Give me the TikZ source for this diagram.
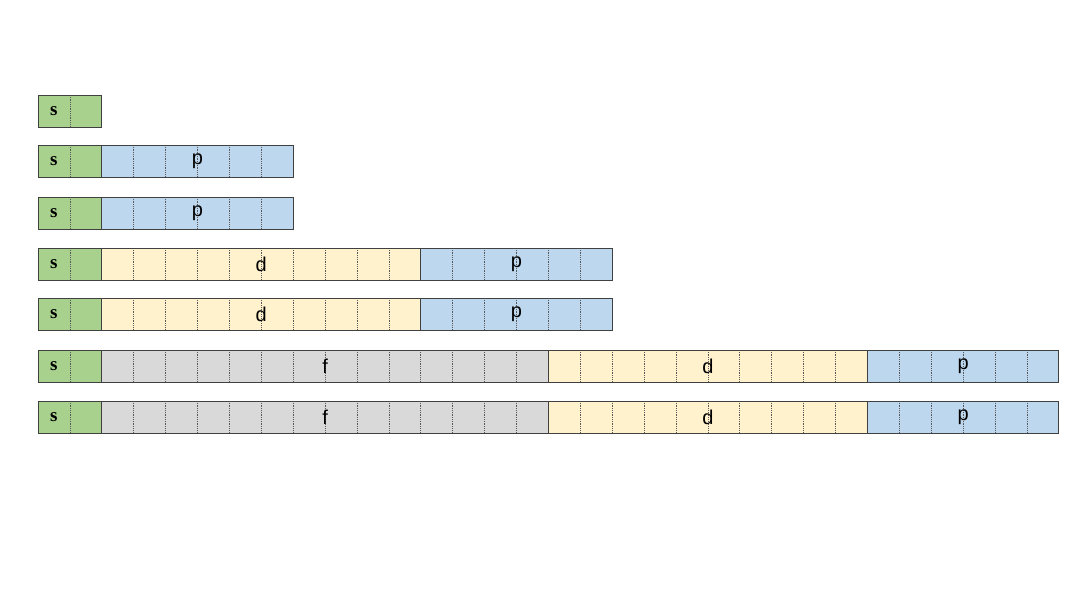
\documentclass[tikz,border=0pt]{standalone}
\usepackage{fontspec}
\setmainfont{Liberation Sans}
\newfontfamily\sfont{Liberation Serif}
\usetikzlibrary{positioning}

\definecolor{sgreen}{RGB}{169,209,142}
\definecolor{pblue}{RGB}{189,215,238}
\definecolor{dyellow}{RGB}{255,242,204}
\definecolor{fgray}{RGB}{217,217,217}

\tikzset{
  blk/.style={draw=black!75,line width=1pt,inner sep=0pt,outer sep=0pt,
    minimum height=32pt,minimum width=#1*31.9pt,font=\fontsize{20}{20}\selectfont,
    path picture={\foreach \i in {1,...,13}
      \draw[black!65,densely dotted,line width=0.8pt]
        ([xshift=\i*31.9pt]path picture bounding box.north west) --
        ([xshift=\i*31.9pt]path picture bounding box.south west);}},
  sblk/.style={blk=2,fill=sgreen,anchor=north west,
    label={[font=\sfont\bfseries\fontsize{19}{19}\selectfont,xshift=-16pt]center:s}},
  pblk/.style={blk=6,fill=pblue},
  dblk/.style={blk=10,fill=dyellow},
  fblk/.style={blk=14,fill=fgray},
}

\begin{document}
\begin{tikzpicture}[x=1pt,y=-1pt]
  \useasboundingbox (0,0) rectangle (1080,608);
  % s blocks, one per row
  \foreach \r/\y in {1/95,2/145,3/197,4/248,5/298,6/350,7/401}
    \node[sblk] (s\r) at (38,\y) {};
  % p rows
  \node[pblk,right=0pt of s2] (p2) {p};
  \node[pblk,right=0pt of s3] (p3) {p};
  % d p rows
  \node[dblk,right=0pt of s4] (d4) {d};
  \node[pblk,right=0pt of d4] (p4) {p};
  \node[dblk,right=0pt of s5] (d5) {d};
  \node[pblk,right=0pt of d5] (p5) {p};
  % f d p rows
  \node[fblk,right=0pt of s6] (f6) {f};
  \node[dblk,right=0pt of f6] (d6) {d};
  \node[pblk,right=0pt of d6] (p6) {p};
  \node[fblk,right=0pt of s7] (f7) {f};
  \node[dblk,right=0pt of f7] (d7) {d};
  \node[pblk,right=0pt of d7] (p7) {p};
\end{tikzpicture}
\end{document}
